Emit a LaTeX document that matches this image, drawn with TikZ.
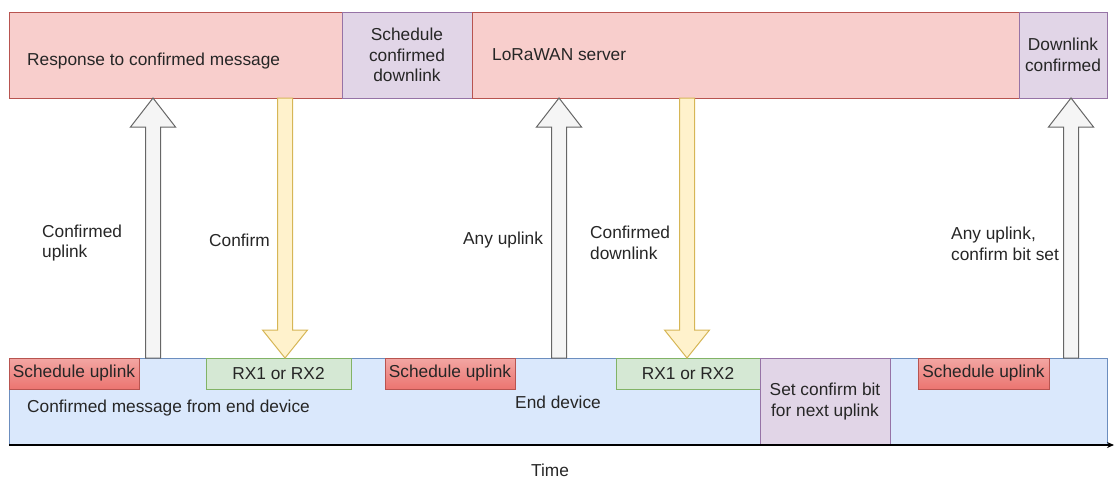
\documentclass[tikz,border=0pt]{standalone}
\usepackage{fontspec}
\setmainfont{Liberation Sans}
\usetikzlibrary{calc,arrows.meta}

\definecolor{redfill}{HTML}{F8CECC}
\definecolor{redline}{HTML}{B85450}
\definecolor{redgrad}{HTML}{EA6B66}
\definecolor{purfill}{HTML}{E1D5E7}
\definecolor{purline}{HTML}{9673A6}
\definecolor{bluefill}{HTML}{DAE8FC}
\definecolor{blueline}{HTML}{6C8EBF}
\definecolor{grnfill}{HTML}{D5E8D4}
\definecolor{grnline}{HTML}{82B366}
\definecolor{yelfill}{HTML}{FFF2CC}
\definecolor{yelline}{HTML}{D6B656}
\definecolor{gryfill}{HTML}{F5F5F5}
\definecolor{gryline}{HTML}{666666}
\definecolor{txt}{HTML}{262626}

% block arrow pointing up: style, x position, lower node, upper node
\newcommand\blockup[4]{%
  \draw[#1] let \p1=(#2,0 |- #3.north), \p2=(#2,0 |- #4.south) in
    (\x1-7.5pt,\y1) -- (\x1-7.5pt,\y2-29pt) -- (\x1-22.5pt,\y2-29pt) -- (\x1,\y2)
    -- (\x1+22.5pt,\y2-29pt) -- (\x1+7.5pt,\y2-29pt) -- (\x1+7.5pt,\y1) -- cycle;}
% block arrow pointing down: style, x position, upper node, lower node
\newcommand\blockdown[4]{%
  \draw[#1] let \p1=(#2,0 |- #3.south), \p2=(#2,0 |- #4.north) in
    (\x1-7.5pt,\y1) -- (\x1-7.5pt,\y2+28pt) -- (\x1-22.5pt,\y2+28pt) -- (\x1,\y2)
    -- (\x1+22.5pt,\y2+28pt) -- (\x1+7.5pt,\y2+28pt) -- (\x1+7.5pt,\y1) -- cycle;}

\begin{document}
\begin{tikzpicture}[x=1pt,y=-1pt,
  font=\fontsize{17.3}{20.4}\selectfont, text=txt,
  box/.style={rectangle, inner sep=0pt, outer sep=0pt, line width=1pt, anchor=north west},
  redbox/.style={box, fill=redfill, draw=redline},
  purbox/.style={box, fill=purfill, draw=purline},
  bluebox/.style={box, fill=bluefill, draw=blueline},
  grnbox/.style={box, fill=grnfill, draw=grnline},
  sched/.style={box, draw=redline, top color=redfill!60!redgrad, bottom color=redgrad!90!redfill},
  lbl/.style={inner sep=0pt, align=left},
  upwhite/.style={fill=gryfill, draw=gryline, line width=1pt, line join=miter},
  downyellow/.style={fill=yelfill, draw=yelline, line width=1pt, line join=miter}]

\useasboundingbox (0,0) rectangle (1115,480);

% server timeline
\node[redbox, minimum width=333pt, minimum height=86pt] (resp) at (9,12) {};
\node[purbox, minimum width=130pt, minimum height=86pt] (schd) at (342,12) {};
\node[redbox, minimum width=547pt, minimum height=86pt] (lora) at (472,12) {};
\node[purbox, minimum width=88pt, minimum height=86pt] (dlc) at (1019,12) {};

\node[lbl, anchor=west] (resptxt) at (27,61) {Response to confirmed message};
\node[lbl, align=center] (schdtxt) at (schd.center) {Schedule\\confirmed\\downlink};
\node[lbl, anchor=west] (loratxt) at (492,55) {LoRaWAN server};
\node[lbl, align=center] (dlctxt) at (dlc.center) {Downlink\\confirmed};

% end device timeline
\node[bluebox, minimum width=1098pt, minimum height=87pt] (dev) at (9,358) {};
\node[sched, minimum width=130pt, minimum height=31pt] (su1) at (9,358) {};
\node[grnbox, minimum width=145pt, minimum height=31pt] (rx1) at (206,358) {};
\node[sched, minimum width=130pt, minimum height=31pt] (su2) at (385,358) {};
\node[grnbox, minimum width=144pt, minimum height=31pt] (rx2) at (616,358) {};
\node[purbox, minimum width=130pt, minimum height=87pt] (setc) at (760,358) {};
\node[sched, minimum width=131pt, minimum height=31pt] (su3) at (918,358) {};

\node[lbl] (su1txt) at (su1.center) {Schedule uplink};
\node[lbl] (rx1txt) at (rx1.center) {RX1 or RX2};
\node[lbl] (su2txt) at (su2.center) {Schedule uplink};
\node[lbl] (rx2txt) at (rx2.center) {RX1 or RX2};
\node[lbl, align=center] (setctxt) at (setc.center) {Set confirm bit\\for next uplink};
\node[lbl] (su3txt) at (su3.center) {Schedule uplink};
\node[lbl, anchor=west] (devtxt) at (27,408) {Confirmed message from end device};
\node[lbl] (enddev) at (558,402) {End device};

% time axis
\coordinate (axisend) at (1114,445);
\draw[line width=1.2pt, -{Stealth[length=7pt,width=6pt]}] (dev.south west) -- (axisend);
\node[lbl] (time) at (550,470) {Time};

% messages between device and server
\blockup{upwhite}{153}{dev}{resp}
\blockdown{downyellow}{285}{resp}{rx1}
\blockup{upwhite}{559}{dev}{lora}
\blockdown{downyellow}{687}{lora}{rx2}
\blockup{upwhite}{1071}{dev}{dlc}

\node[lbl, anchor=west] (l1) at (42,243) {Confirmed\\uplink};
\node[lbl, anchor=west] (l2) at (209,240) {Confirm};
\node[lbl, anchor=west] (l3) at (463,240) {Any uplink};
\node[lbl, anchor=west] (l4) at (590,243) {Confirmed\\downlink};
\node[lbl, anchor=west] (l5) at (951,244) {Any uplink,\\confirm bit set};

\end{tikzpicture}
\end{document}
